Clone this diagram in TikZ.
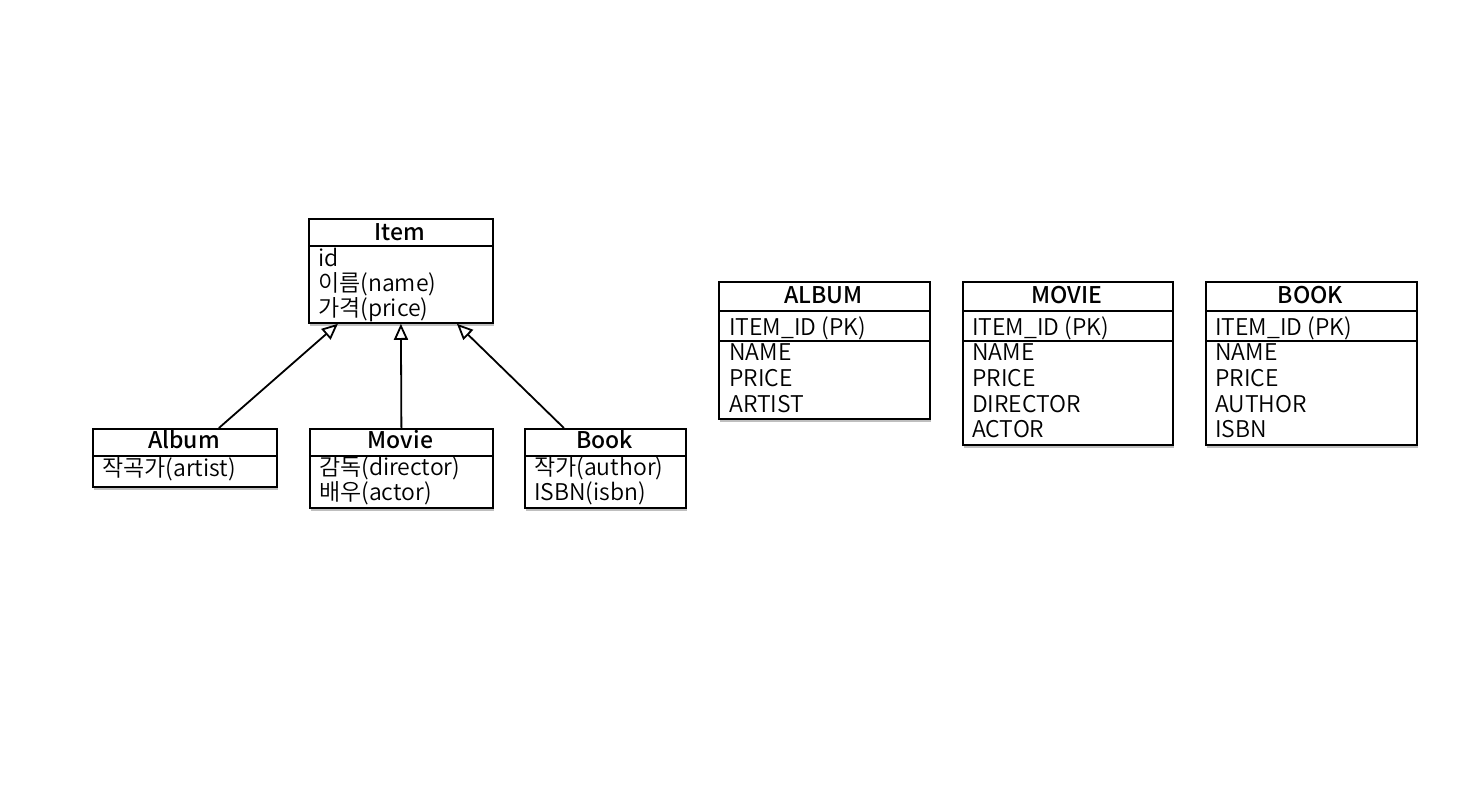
\documentclass[tikz,border=0pt]{standalone}
\usepackage{fontspec}
\setmainfont{Noto Sans CJK KR DemiLight}[BoldFont={Noto Sans CJK KR Medium}]
\usetikzlibrary{arrows.meta,positioning,shadows}

\begin{document}
\begin{tikzpicture}[x=1pt,y=-1pt,>={Triangle[open,length=16pt,width=14pt]},
  box/.style={draw,line width=1.8pt,fill=white,inner sep=0pt,anchor=north west,
    drop shadow={shadow xshift=1.5pt,shadow yshift=-3.5pt,opacity=0.5}},
  head/.style={font=\fontsize{23}{25}\selectfont\bfseries,inner sep=0pt,anchor=base},
  attr/.style={font=\fontsize{23}{25}\selectfont,inner sep=0pt,anchor=base west},
  rule/.style={line width=1.8pt},
  gen/.style={->,line width=1.8pt}]
  \useasboundingbox[fill=white] (0,0) rectangle (1470,808);

  % class diagram
  \node[box,minimum width=184pt,minimum height=104pt] (item) at (308,218) {};
  \node[head] (item-t) at (400,240) {Item};
  \draw[rule] ([yshift=-28pt]item.north west) -- ([yshift=-28pt]item.north east);
  \foreach \t [count=\i] in {id,이름(name),가격(price)}
    \node[attr] (item-\i) at (318,241+25*\i) {\t};

  \node[box,minimum width=184pt,minimum height=58pt] (album) at (92,428) {};
  \node[head] (album-t) at (184,448) {Album};
  \draw[rule] ([yshift=-28pt]album.north west) -- ([yshift=-28pt]album.north east);
  \node[attr] (album-1) at (102,476) {작곡가(artist)};

  \node[box,minimum width=183pt,minimum height=79pt] (movie) at (309,428) {};
  \node[head] (movie-t) at (400.5,448) {Movie};
  \draw[rule] ([yshift=-28pt]movie.north west) -- ([yshift=-28pt]movie.north east);
  \foreach \t [count=\i] in {감독(director),배우(actor)}
    \node[attr] (movie-\i) at (319,450+25*\i) {\t};

  \node[box,minimum width=161pt,minimum height=79pt] (book) at (524,428) {};
  \node[head] (book-t) at (604.5,448) {Book};
  \draw[rule] ([yshift=-28pt]book.north west) -- ([yshift=-28pt]book.north east);
  \foreach \t [count=\i] in {작가(author),ISBN(isbn)}
    \node[attr] (book-\i) at (534,450+25*\i) {\t};

  \draw[gen] ([xshift=34pt]album.north) -- ([xshift=-63pt]item.south);
  \draw[gen] (movie.north) -- (item.south);
  \draw[gen] ([xshift=-41.5pt]book.north) -- ([xshift=56pt]item.south);

  % tables
  \node[box,minimum width=211pt,minimum height=137pt] (talbum) at (718,281) {};
  \node[head] (talbum-t) at (823.5,303) {ALBUM};
  \draw[rule] ([yshift=-30pt]talbum.north west) -- ([yshift=-30pt]talbum.north east);
  \draw[rule] ([yshift=-60pt]talbum.north west) -- ([yshift=-60pt]talbum.north east);
  \node[attr] (talbum-pk) at (729,335) {ITEM\_ID (PK)};
  \foreach \t [count=\i] in {NAME,PRICE,ARTIST}
    \node[attr] (talbum-\i) at (729,335+25.7*\i) {\t};

  \node[box,minimum width=210pt,minimum height=163pt] (tmovie) at (962,281) {};
  \node[head] (tmovie-t) at (1067,303) {MOVIE};
  \draw[rule] ([yshift=-30pt]tmovie.north west) -- ([yshift=-30pt]tmovie.north east);
  \draw[rule] ([yshift=-60pt]tmovie.north west) -- ([yshift=-60pt]tmovie.north east);
  \node[attr] (tmovie-pk) at (972,335) {ITEM\_ID (PK)};
  \foreach \t [count=\i] in {NAME,PRICE,DIRECTOR,ACTOR}
    \node[attr] (tmovie-\i) at (972,335+25.7*\i) {\t};

  \node[box,minimum width=211pt,minimum height=163pt] (tbook) at (1205,281) {};
  \node[head] (tbook-t) at (1310.5,303) {BOOK};
  \draw[rule] ([yshift=-30pt]tbook.north west) -- ([yshift=-30pt]tbook.north east);
  \draw[rule] ([yshift=-60pt]tbook.north west) -- ([yshift=-60pt]tbook.north east);
  \node[attr] (tbook-pk) at (1215,335) {ITEM\_ID (PK)};
  \foreach \t [count=\i] in {NAME,PRICE,AUTHOR,ISBN}
    \node[attr] (tbook-\i) at (1215,335+25.7*\i) {\t};
\end{tikzpicture}
\end{document}
